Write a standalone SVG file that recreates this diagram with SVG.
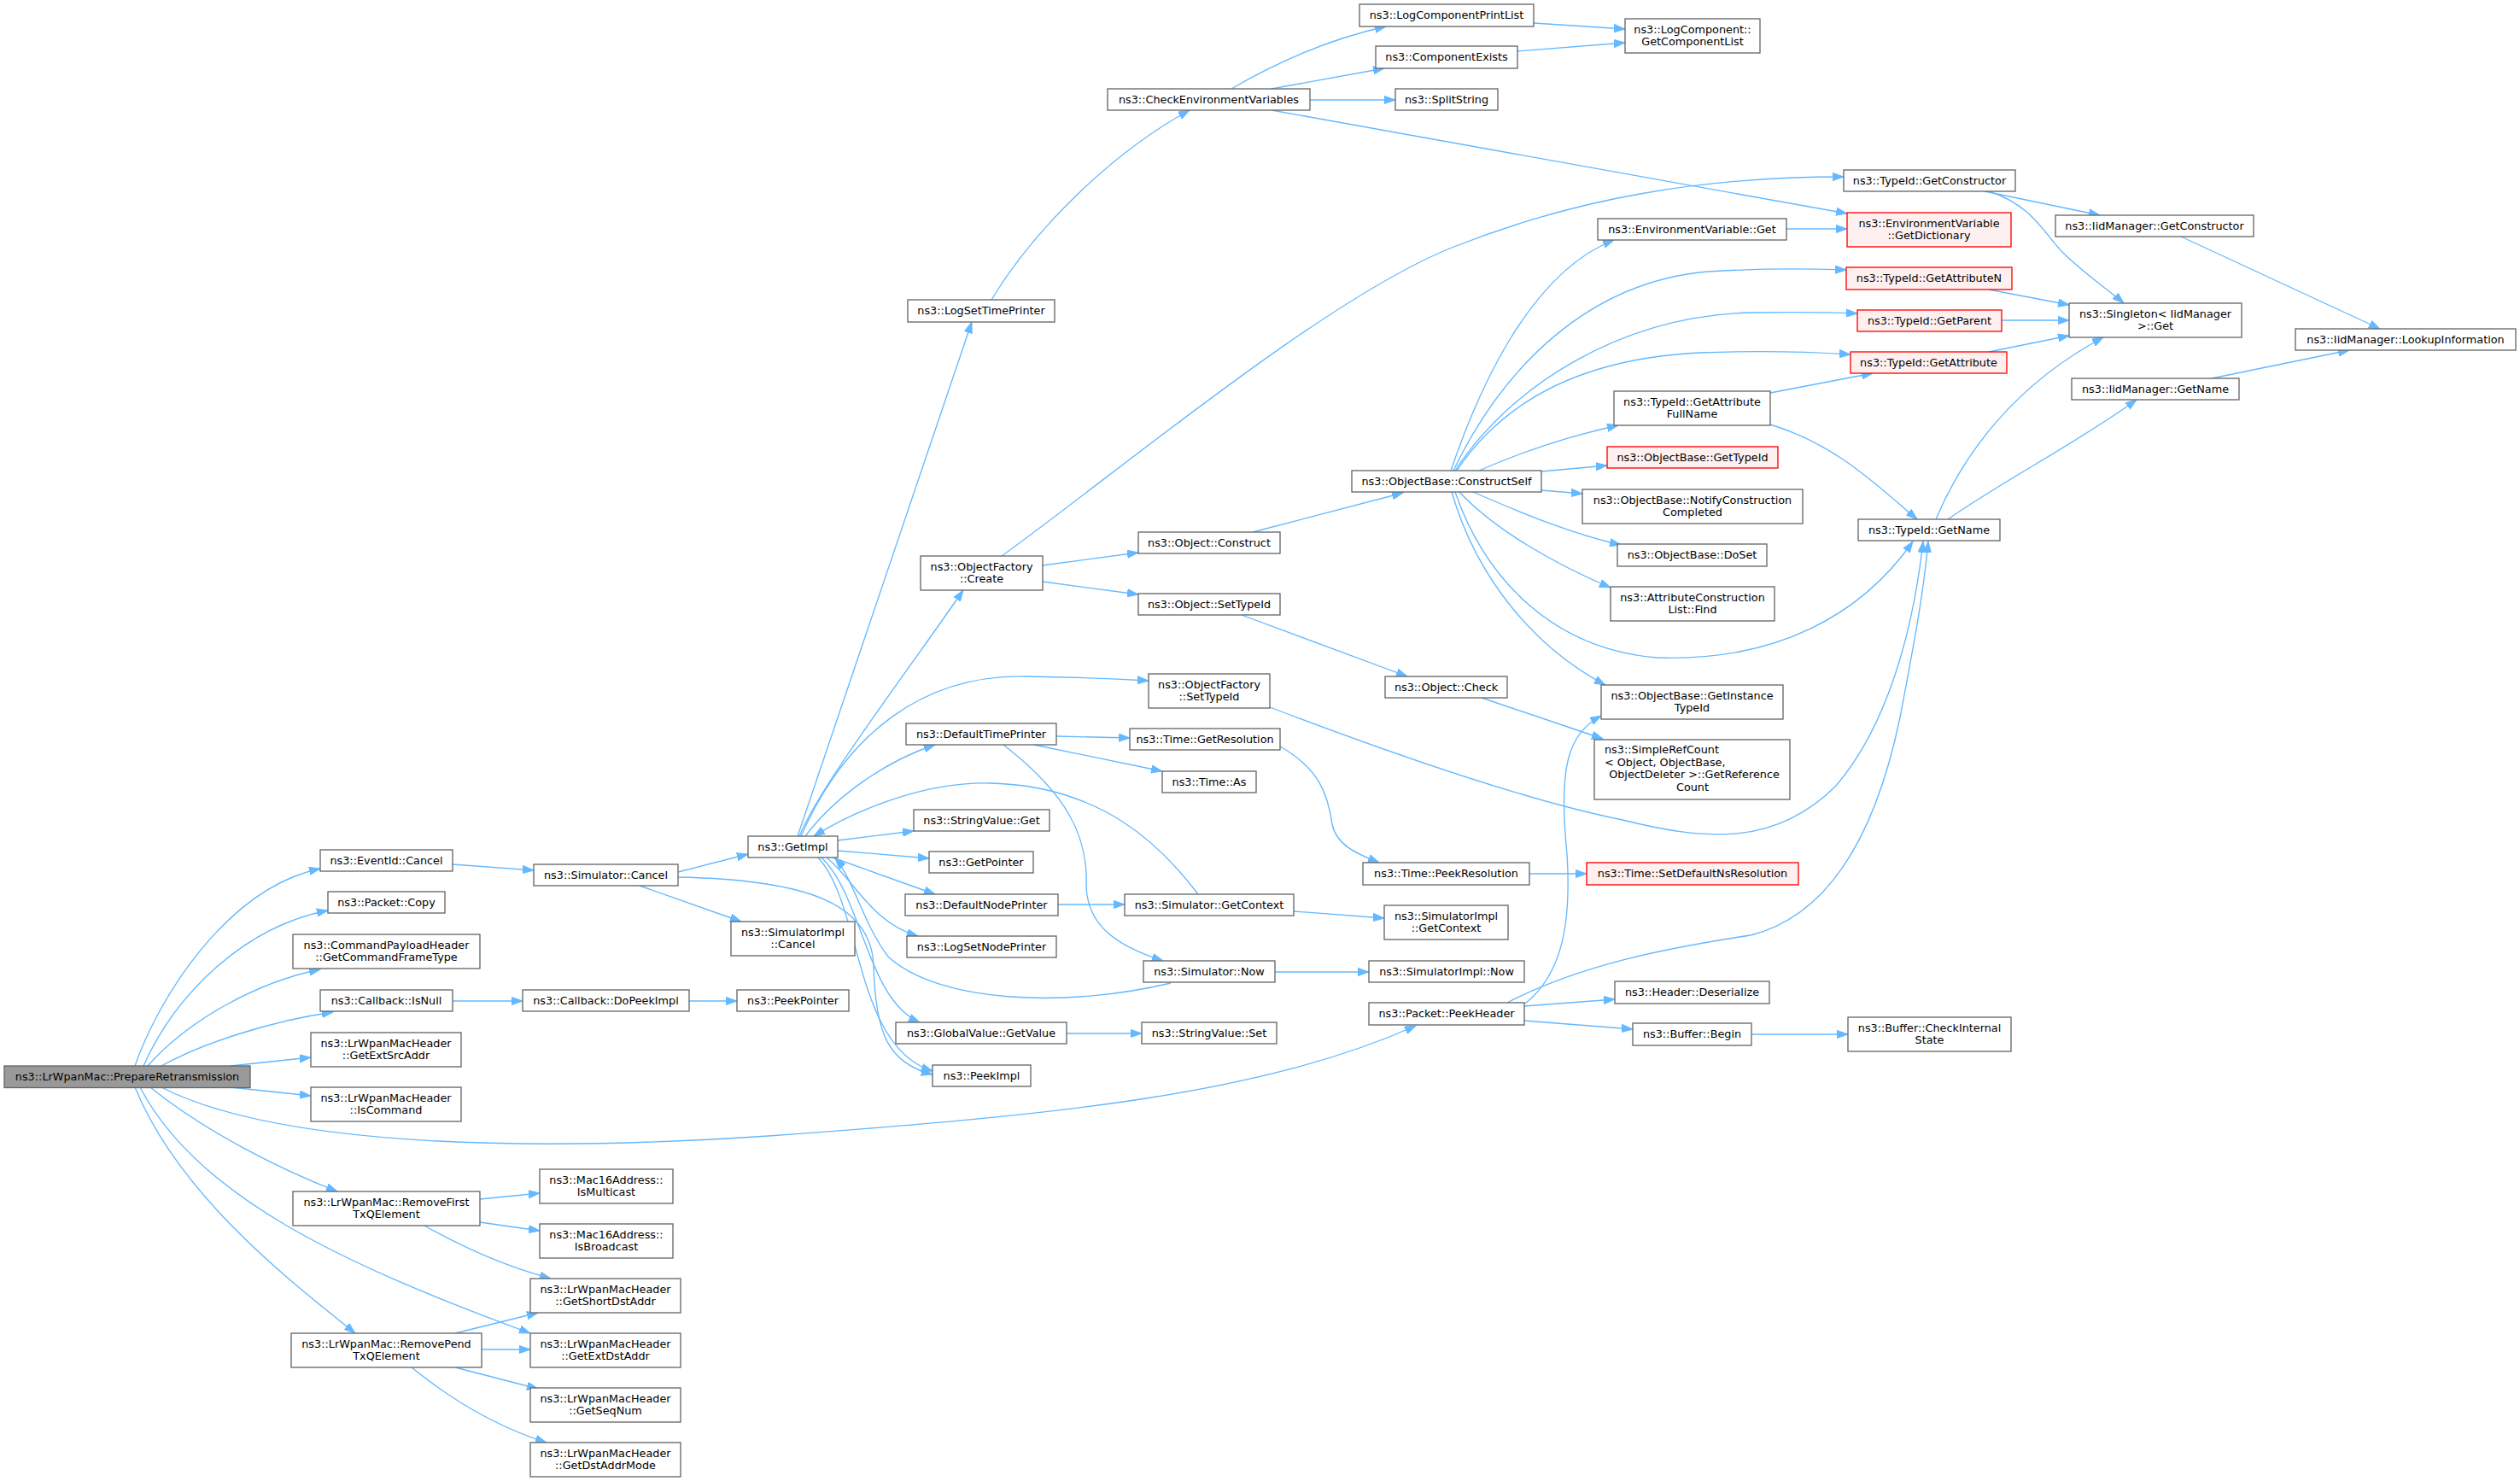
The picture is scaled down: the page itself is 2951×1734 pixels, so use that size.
<svg xmlns="http://www.w3.org/2000/svg" width="2951" height="1734" viewBox="0 0 2951 1734">
<style>
text{font-family:"DejaVu Sans","Liberation Sans",sans-serif;font-size:12.8px;text-anchor:middle;fill:#000}
.nd rect{fill:#fff;stroke:#666;stroke-width:1.33}
.rd rect{fill:#fff0f0;stroke:#ff0000;stroke-width:1.33}
.mn rect{fill:#999;stroke:#666;stroke-width:1.33}
#edges path{fill:none;stroke:#63b8ff;stroke-width:1.33;marker-end:url(#arr)}
</style>
<defs>
<marker id="arr" markerWidth="14" markerHeight="10" refX="13" refY="5" orient="auto" markerUnits="userSpaceOnUse">
<path d="M0,0.4 L13,5 L0,9.6 z" fill="#63b8ff" stroke="#63b8ff" stroke-width="1"/>
</marker>
</defs>
<rect width="2951" height="1734" fill="#fff"/>
<g id="edges">
<path d="M158,1248 C185,1170 265,1040 375,1017"/>
<path d="M168,1248 C205,1165 285,1085 384,1066"/>
<path d="M173,1248 C220,1195 300,1150 375,1135"/>
<path d="M189,1248 C240,1220 320,1195 390,1185"/>
<path d="M270,1248 L364,1238"/>
<path d="M270,1273 L364,1283"/>
<path d="M189,1273 C320,1340 600,1350 900,1330 C1250,1305 1480,1280 1658,1201"/>
<path d="M176,1273 C240,1325 330,1370 395,1395"/>
<path d="M164,1273 C230,1400 400,1480 621,1561"/>
<path d="M158,1273 C210,1400 340,1500 416,1561"/>
<path d="M530,1012 L625,1019"/>
<path d="M794,1021 L876,1000"/>
<path d="M749,1037 L868,1079"/>
<path d="M794,1027 C950,1030 1020,1060 1023,1130 C1025,1210 1040,1245 1092,1258"/>
<path d="M530,1172 L612,1172"/>
<path d="M807,1172 L863,1172"/>
<path d="M562,1404 L632,1397"/>
<path d="M562,1431 L632,1441"/>
<path d="M497,1435 C550,1465 600,1485 645,1497"/>
<path d="M533,1561 L630,1537"/>
<path d="M564,1580 L621,1580"/>
<path d="M533,1601 L630,1626"/>
<path d="M482,1601 C530,1640 580,1670 640,1689"/>
<path d="M934,979 L1138,377"/>
<path d="M936,979 C960,920 1060,790 1128,691"/>
<path d="M938,979 C990,860 1080,790 1200,792 C1270,793 1310,795 1345,797"/>
<path d="M943,979 C980,930 1040,890 1095,872"/>
<path d="M1403,1047 C1360,990 1290,920 1160,917 C1080,915 1000,950 953,979"/>
<path d="M981,984 L1070,973"/>
<path d="M981,996 L1088,1005"/>
<path d="M975,1004 L1095,1047"/>
<path d="M968,1004 C1000,1030 1020,1080 1075,1096"/>
<path d="M962,1004 C1010,1050 1015,1170 1077,1197"/>
<path d="M958,1004 C1010,1060 1000,1225 1092,1254"/>
<path d="M1371,1151 C1250,1180 1100,1175 1040,1120 C1010,1080 1000,1030 978,1005"/>
<path d="M1175,872 C1250,930 1275,980 1272,1040 C1275,1080 1300,1105 1362,1125"/>
<path d="M1237,862 L1323,864"/>
<path d="M1211,872 L1361,903"/>
<path d="M1239,1059 L1317,1059"/>
<path d="M1515,1067 L1621,1075"/>
<path d="M1493,1138 L1603,1138"/>
<path d="M1249,1210 L1337,1210"/>
<path d="M1499,874 C1545,900 1555,930 1560,965 C1565,990 1590,1000 1615,1010"/>
<path d="M1791,1023 L1858,1023"/>
<path d="M1173,651 C1300,560 1550,350 1700,290 C1850,230 2000,207 2159,207"/>
<path d="M1221,662 L1333,647"/>
<path d="M1221,681 L1333,696"/>
<path d="M1467,623 L1643,577"/>
<path d="M1454,720 L1648,792"/>
<path d="M1487,828 C1650,890 1800,940 1900,960 C2000,985 2080,990 2150,920 C2210,850 2240,740 2252,634"/>
<path d="M1765,1174 C1850,1130 1950,1110 2050,1095 C2150,1070 2200,960 2225,840 C2240,760 2252,700 2258,634"/>
<path d="M1786,1175 C1830,1140 1840,1080 1835,1000 C1825,900 1835,860 1875,838"/>
<path d="M1785,1178 L1891,1170"/>
<path d="M1785,1195 L1912,1205"/>
<path d="M2051,1211 L2164,1211"/>
<path d="M1161,351 C1210,270 1300,180 1393,129"/>
<path d="M1442,104 C1500,70 1560,45 1623,31"/>
<path d="M1489,104 L1621,80"/>
<path d="M1534,117 L1634,117"/>
<path d="M1489,129 L2163,250"/>
<path d="M1796,27 L1903,34"/>
<path d="M1777,60 L1903,50"/>
<path d="M2092,268 L2163,268"/>
<path d="M2324,224 L2459,252"/>
<path d="M2329,224 C2380,240 2395,275 2415,295 C2440,320 2470,340 2487,355"/>
<path d="M2554,277 L2787,385"/>
<path d="M2329,339 L2423,357"/>
<path d="M2344,375 L2423,375"/>
<path d="M2329,412 L2423,393"/>
<path d="M2267,608 C2300,530 2360,450 2463,395"/>
<path d="M2281,608 C2350,560 2430,520 2502,468"/>
<path d="M2590,443 L2751,410"/>
<path d="M2073,460 L2193,437"/>
<path d="M2073,497 C2150,520 2200,570 2245,608"/>
<path d="M1699,551 C1730,460 1790,320 1890,281"/>
<path d="M1702,551 C1760,430 1860,330 2000,318 C2080,313 2130,315 2162,316"/>
<path d="M1704,551 C1770,450 1900,370 2050,366 C2110,365 2150,366 2175,367"/>
<path d="M1706,551 C1760,470 1850,420 1990,413 C2070,410 2120,412 2167,415"/>
<path d="M1732,551 C1780,530 1840,510 1895,498"/>
<path d="M1805,552 L1882,545"/>
<path d="M1805,574 L1853,578"/>
<path d="M1725,576 C1780,600 1840,625 1898,638"/>
<path d="M1709,576 C1750,620 1820,660 1886,688"/>
<path d="M1700,576 C1730,680 1800,760 1880,802"/>
<path d="M1704,576 C1740,680 1820,760 1940,770 C2080,775 2180,720 2240,634"/>
<path d="M1735,817 L1877,865"/>
</g>
<g id="n1" class="mn"><rect x="5" y="1248" width="288" height="25.5"/><text x="149" y="1265">ns3::LrWpanMac::PrepareRetransmission</text></g>
<g id="n2" class="nd"><rect x="375" y="995" width="155" height="25"/><text x="452.5" y="1011.8">ns3::EventId::Cancel</text></g>
<g id="n3" class="nd"><rect x="384" y="1044" width="137" height="25"/><text x="452.5" y="1060.8">ns3::Packet::Copy</text></g>
<g id="n4" class="nd"><rect x="343" y="1094" width="219" height="40"/><text x="452.5" y="1110.5">ns3::CommandPayloadHeader</text><text x="452.5" y="1125">::GetCommandFrameType</text></g>
<g id="n5" class="nd"><rect x="375" y="1159" width="155" height="25"/><text x="452.5" y="1175.8">ns3::Callback::IsNull</text></g>
<g id="n6" class="nd"><rect x="364" y="1209" width="176" height="40"/><text x="452" y="1225.5">ns3::LrWpanMacHeader</text><text x="452" y="1240">::GetExtSrcAddr</text></g>
<g id="n7" class="nd"><rect x="364" y="1273" width="176" height="40"/><text x="452" y="1289.5">ns3::LrWpanMacHeader</text><text x="452" y="1304">::IsCommand</text></g>
<g id="n8" class="nd"><rect x="343" y="1395" width="219" height="40"/><text x="452.5" y="1411.5">ns3::LrWpanMac::RemoveFirst</text><text x="452.5" y="1426">TxQElement</text></g>
<g id="n9" class="nd"><rect x="341" y="1561" width="223" height="40"/><text x="452.5" y="1577.5">ns3::LrWpanMac::RemovePend</text><text x="452.5" y="1592">TxQElement</text></g>
<g id="n10" class="nd"><rect x="625" y="1012" width="169" height="25"/><text x="709.5" y="1028.8">ns3::Simulator::Cancel</text></g>
<g id="n11" class="nd"><rect x="612" y="1159" width="195" height="25"/><text x="709.5" y="1175.8">ns3::Callback::DoPeekImpl</text></g>
<g id="n12" class="nd"><rect x="632" y="1369" width="156" height="40"/><text x="710" y="1385.5">ns3::Mac16Address::</text><text x="710" y="1400">IsMulticast</text></g>
<g id="n13" class="nd"><rect x="632" y="1433" width="156" height="40"/><text x="710" y="1449.5">ns3::Mac16Address::</text><text x="710" y="1464">IsBroadcast</text></g>
<g id="n14" class="nd"><rect x="621" y="1497" width="176" height="40"/><text x="709" y="1513.5">ns3::LrWpanMacHeader</text><text x="709" y="1528">::GetShortDstAddr</text></g>
<g id="n15" class="nd"><rect x="621" y="1561" width="176" height="40"/><text x="709" y="1577.5">ns3::LrWpanMacHeader</text><text x="709" y="1592">::GetExtDstAddr</text></g>
<g id="n16" class="nd"><rect x="621" y="1625" width="176" height="40"/><text x="709" y="1641.5">ns3::LrWpanMacHeader</text><text x="709" y="1656">::GetSeqNum</text></g>
<g id="n17" class="nd"><rect x="621" y="1689" width="176" height="40"/><text x="709" y="1705.5">ns3::LrWpanMacHeader</text><text x="709" y="1720">::GetDstAddrMode</text></g>
<g id="n18" class="nd"><rect x="876" y="979" width="105" height="25"/><text x="928.5" y="995.8">ns3::GetImpl</text></g>
<g id="n19" class="nd"><rect x="856" y="1079" width="145" height="40"/><text x="928.5" y="1095.5">ns3::SimulatorImpl</text><text x="928.5" y="1110">::Cancel</text></g>
<g id="n20" class="nd"><rect x="863" y="1159" width="131" height="25"/><text x="928.5" y="1175.8">ns3::PeekPointer</text></g>
<g id="n21" class="nd"><rect x="1063" y="351" width="172" height="26"/><text x="1149" y="368">ns3::LogSetTimePrinter</text></g>
<g id="n22" class="nd"><rect x="1078" y="651" width="143" height="40"/><text x="1149.5" y="667.5">ns3::ObjectFactory</text><text x="1149.5" y="682">::Create</text></g>
<g id="n23" class="nd"><rect x="1061" y="847" width="176" height="25"/><text x="1149" y="863.8">ns3::DefaultTimePrinter</text></g>
<g id="n24" class="nd"><rect x="1070" y="948" width="159" height="25"/><text x="1149.5" y="964.8">ns3::StringValue::Get</text></g>
<g id="n25" class="nd"><rect x="1088" y="997" width="122" height="25"/><text x="1149" y="1013.8">ns3::GetPointer</text></g>
<g id="n26" class="nd"><rect x="1060" y="1047" width="179" height="25"/><text x="1149.5" y="1063.8">ns3::DefaultNodePrinter</text></g>
<g id="n27" class="nd"><rect x="1062" y="1096" width="175" height="25"/><text x="1149.5" y="1112.8">ns3::LogSetNodePrinter</text></g>
<g id="n28" class="nd"><rect x="1049" y="1197" width="200" height="25"/><text x="1149" y="1213.8">ns3::GlobalValue::GetValue</text></g>
<g id="n29" class="nd"><rect x="1092" y="1247" width="115" height="25"/><text x="1149.5" y="1263.8">ns3::PeekImpl</text></g>
<g id="n30" class="nd"><rect x="1297" y="104" width="237" height="25"/><text x="1415.5" y="120.8">ns3::CheckEnvironmentVariables</text></g>
<g id="n31" class="nd"><rect x="1333" y="623" width="166" height="25"/><text x="1416" y="639.8">ns3::Object::Construct</text></g>
<g id="n32" class="nd"><rect x="1333" y="695" width="166" height="25"/><text x="1416" y="711.8">ns3::Object::SetTypeId</text></g>
<g id="n33" class="nd"><rect x="1345" y="789" width="142" height="40"/><text x="1416" y="805.5">ns3::ObjectFactory</text><text x="1416" y="820">::SetTypeId</text></g>
<g id="n34" class="nd"><rect x="1323" y="853" width="176" height="25"/><text x="1411" y="869.8">ns3::Time::GetResolution</text></g>
<g id="n35" class="nd"><rect x="1361" y="903" width="110" height="25"/><text x="1416" y="919.8">ns3::Time::As</text></g>
<g id="n36" class="nd"><rect x="1317" y="1047" width="198" height="25"/><text x="1416" y="1063.8">ns3::Simulator::GetContext</text></g>
<g id="n37" class="nd"><rect x="1339" y="1125" width="154" height="25"/><text x="1416" y="1141.8">ns3::Simulator::Now</text></g>
<g id="n38" class="nd"><rect x="1337" y="1197" width="158" height="25"/><text x="1416" y="1213.8">ns3::StringValue::Set</text></g>
<g id="n39" class="nd"><rect x="1592" y="5" width="204" height="26"/><text x="1694" y="22">ns3::LogComponentPrintList</text></g>
<g id="n40" class="nd"><rect x="1611" y="54" width="166" height="26"/><text x="1694" y="71">ns3::ComponentExists</text></g>
<g id="n41" class="nd"><rect x="1634" y="104" width="120" height="25"/><text x="1694" y="120.8">ns3::SplitString</text></g>
<g id="n42" class="nd"><rect x="1583" y="551" width="222" height="25"/><text x="1694" y="567.8">ns3::ObjectBase::ConstructSelf</text></g>
<g id="n43" class="nd"><rect x="1622" y="792" width="143" height="25"/><text x="1693.5" y="808.8">ns3::Object::Check</text></g>
<g id="n44" class="nd"><rect x="1596" y="1010" width="195" height="26"/><text x="1693.5" y="1027">ns3::Time::PeekResolution</text></g>
<g id="n45" class="nd"><rect x="1621" y="1060" width="145" height="40"/><text x="1693.5" y="1076.5">ns3::SimulatorImpl</text><text x="1693.5" y="1091">::GetContext</text></g>
<g id="n46" class="nd"><rect x="1603" y="1125" width="182" height="25"/><text x="1694" y="1141.8">ns3::SimulatorImpl::Now</text></g>
<g id="n47" class="nd"><rect x="1603" y="1174" width="182" height="26"/><text x="1694" y="1191">ns3::Packet::PeekHeader</text></g>
<g id="n48" class="nd"><rect x="1903" y="22" width="158" height="40"/><text x="1982" y="38.5">ns3::LogComponent::</text><text x="1982" y="53">GetComponentList</text></g>
<g id="n49" class="nd"><rect x="1871" y="256" width="221" height="25"/><text x="1981.5" y="272.8">ns3::EnvironmentVariable::Get</text></g>
<g id="n50" class="nd"><rect x="1890" y="458" width="183" height="40"/><text x="1981.5" y="474.5">ns3::TypeId::GetAttribute</text><text x="1981.5" y="489">FullName</text></g>
<g id="n51" class="rd"><rect x="1882" y="523" width="200" height="25"/><text x="1982" y="539.8">ns3::ObjectBase::GetTypeId</text></g>
<g id="n52" class="nd"><rect x="1853" y="573" width="258" height="40"/><text x="1982" y="589.5">ns3::ObjectBase::NotifyConstruction</text><text x="1982" y="604">Completed</text></g>
<g id="n53" class="nd"><rect x="1894" y="637" width="175" height="26"/><text x="1981.5" y="654">ns3::ObjectBase::DoSet</text></g>
<g id="n54" class="nd"><rect x="1886" y="687" width="192" height="40"/><text x="1982" y="703.5">ns3::AttributeConstruction</text><text x="1982" y="718">List::Find</text></g>
<g id="n55" class="nd"><rect x="1875" y="802" width="213" height="40"/><text x="1981.5" y="818.5">ns3::ObjectBase::GetInstance</text><text x="1981.5" y="833">TypeId</text></g>
<g id="n56" class="nd"><rect x="1867" y="866" width="229" height="70"/><text x="1879" y="881.8" style="text-anchor:start">ns3::SimpleRefCount</text><text x="1879" y="896.5" style="text-anchor:start">&lt; Object, ObjectBase,</text><text x="1984" y="911">ObjectDeleter &gt;::GetReference</text><text x="1982" y="925.8">Count</text></g>
<g id="n57" class="rd"><rect x="1858" y="1010" width="248" height="26"/><text x="1982" y="1027">ns3::Time::SetDefaultNsResolution</text></g>
<g id="n58" class="nd"><rect x="1891" y="1149" width="181" height="26"/><text x="1981.5" y="1166">ns3::Header::Deserialize</text></g>
<g id="n59" class="nd"><rect x="1912" y="1198" width="139" height="26"/><text x="1981.5" y="1215">ns3::Buffer::Begin</text></g>
<g id="n60" class="nd"><rect x="2159" y="199" width="201" height="25"/><text x="2259.5" y="215.8">ns3::TypeId::GetConstructor</text></g>
<g id="n61" class="rd"><rect x="2163" y="249" width="192" height="40"/><text x="2259" y="265.5">ns3::EnvironmentVariable</text><text x="2259" y="280">::GetDictionary</text></g>
<g id="n62" class="rd"><rect x="2162" y="313" width="194" height="26"/><text x="2259" y="330">ns3::TypeId::GetAttributeN</text></g>
<g id="n63" class="rd"><rect x="2175" y="363" width="169" height="25"/><text x="2259.5" y="379.8">ns3::TypeId::GetParent</text></g>
<g id="n64" class="rd"><rect x="2167" y="412" width="183" height="25"/><text x="2258.5" y="428.8">ns3::TypeId::GetAttribute</text></g>
<g id="n65" class="nd"><rect x="2176" y="608" width="166" height="25"/><text x="2259" y="624.8">ns3::TypeId::GetName</text></g>
<g id="n66" class="nd"><rect x="2164" y="1191" width="191" height="40"/><text x="2259.5" y="1207.5">ns3::Buffer::CheckInternal</text><text x="2259.5" y="1222">State</text></g>
<g id="n67" class="nd"><rect x="2407" y="252" width="232" height="25"/><text x="2523" y="268.8">ns3::IidManager::GetConstructor</text></g>
<g id="n68" class="nd"><rect x="2423" y="355" width="202" height="40"/><text x="2524" y="371.5">ns3::Singleton&lt; IidManager</text><text x="2524" y="386">&gt;::Get</text></g>
<g id="n69" class="nd"><rect x="2426" y="443" width="196" height="25"/><text x="2524" y="459.8">ns3::IidManager::GetName</text></g>
<g id="n70" class="nd"><rect x="2688" y="385" width="258" height="25"/><text x="2817" y="401.8">ns3::IidManager::LookupInformation</text></g>
</svg>
